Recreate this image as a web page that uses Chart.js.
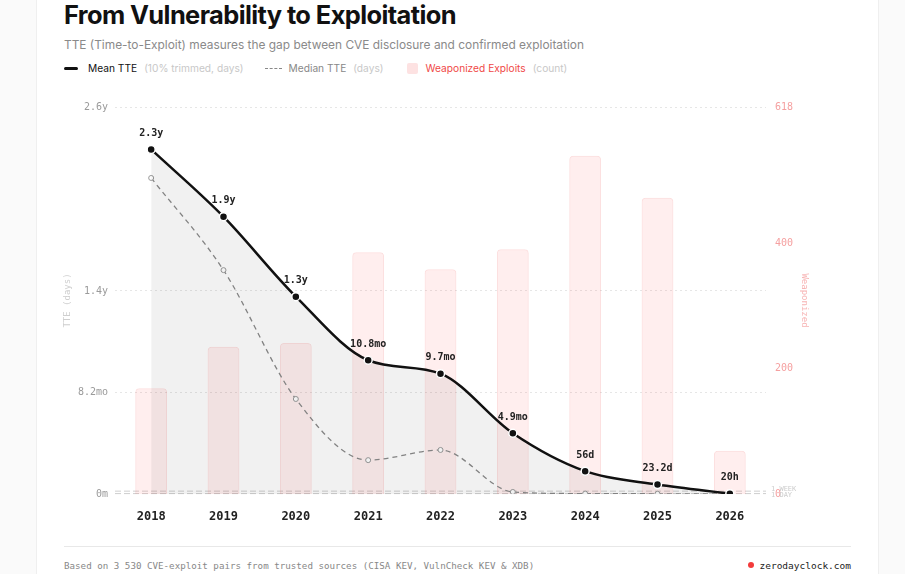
<!DOCTYPE html>
<html>
<head>
<meta charset="utf-8">
<script src="https://cdn.jsdelivr.net/npm/chart.js@4.4.1/dist/chart.umd.min.js"></script>
<style>
  html, body { margin: 0; padding: 0; background: #fafafa; }
  body { width: 905px; height: 574px; overflow: hidden; position: relative; font-family: Inter, "Noto Sans", sans-serif; }
  .card { position: absolute; left: 36px; top: -10px; width: 841px; height: 600px; background: #fff;
          border-left: 1px solid #efefef; border-right: 1px solid #efefef; }
  h1 { position: absolute; left: 64px; top: 0; margin: 0; font: 700 25px Inter, sans-serif; line-height: 30px;
       letter-spacing: -0.6px; color: #111; transform-origin: left center; white-space: nowrap; }
  .sub { position: absolute; left: 64px; top: 37px; font-size: 11.9px; color: #8a8a8a; white-space: nowrap; }
  .legend { position: absolute; left: 64px; top: 61px; height: 14px; display: flex; align-items: center;
            font-size: 10.2px; white-space: nowrap; }
  .legend .ln { width: 14px; height: 0; border-top: 3px solid #111; border-radius: 2px; margin-right: 10px; }
  .legend .dl { width: 17px; height: 0; border-top: 1px dashed #888; margin-right: 7px; }
  .legend .sq { width: 11px; height: 11px; background: #fde2e2; border-radius: 2px; margin-right: 8px; }
  .legend .muted { color: #c8c8c8; margin-left: 7px; }
  #wrap { position: absolute; left: 50px; top: 92px; width: 780px; height: 440px; }
  .rule { position: absolute; left: 64px; top: 546px; width: 787px; height: 1px; background: #e8e8e8; }
  .foot { position: absolute; top: 560px; font: 9.2px "DejaVu Sans Mono", monospace; color: #888; white-space: nowrap; }
  .brand { right: 54px; color: #222; font-size: 9.5px; }
  .brand b { display: inline-block; width: 6px; height: 6px; border-radius: 50%; background: #f33b3b; margin-right: 5px; vertical-align: 1px; }
</style>
</head>
<body>
<div class="card"></div>
<h1 id="title">From Vulnerability to Exploitation</h1>
<div class="sub">TTE (Time-to-Exploit) measures the gap between CVE disclosure and confirmed exploitation</div>
<div class="legend">
  <span class="ln"></span><span style="color:#111">Mean TTE</span><span class="muted" style="margin-right:21px">(10% trimmed, days)</span>
  <span class="dl"></span><span style="color:#888">Median TTE</span><span class="muted" style="margin-right:23px">(days)</span>
  <span class="sq"></span><span style="color:#f04848">Weaponized Exploits</span><span class="muted">(count)</span>
</div>
<div id="wrap"><canvas id="tteChart"></canvas></div>
<div class="rule"></div>
<div class="foot" style="left:64px">Based on 3 530 CVE-exploit pairs from trusted sources (CISA KEV, VulnCheck KEV &amp; XDB)</div>
<div class="foot brand"><b></b>zerodayclock.com</div>

<script>
// fit the title to its width in the reference
const title = document.getElementById("title");
title.style.transform = "scaleX(" + (392 / title.getBoundingClientRect().width) + ")";

const years = ["2018", "2019", "2020", "2021", "2022", "2023", "2024", "2025", "2026"];
const meanDays = [845, 680, 484, 328, 295, 149, 56, 23.2, 0.83];
const meanLabels = ["2.3y", "1.9y", "1.3y", "10.8mo", "9.7mo", "4.9mo", "56d", "23.2d", "20h"];
const medianDays = [775, 549, 233, 83, 108, 5, 1, 0.5, 0.3];
const weaponized = [169, 235, 241, 386, 359, 391, 540, 473, 69];

const tteTicks = [0, 249, 498, 949];
const tteTickLabels = ["0m", "8.2mo", "1.4y", "2.6y"];
const countTicks = [0, 200, 400, 618];
const refDays = [7, 1];
const refLabels = ["1 WEEK", "1 DAY"];

const mono = "'DejaVu Sans Mono', monospace";

// reference lines + value labels above mean points
const overlay = {
  id: "overlay",
  beforeDatasetsDraw(chart) {
    const { ctx, chartArea, scales } = chart;
    ctx.save();
    ctx.strokeStyle = "#cfcfcf";
    ctx.lineWidth = 1;
    ctx.setLineDash([6, 3]);
    refDays.forEach((d, i) => {
      const py = scales.y.getPixelForValue(d);
      ctx.beginPath();
      ctx.moveTo(chartArea.left, py);
      ctx.lineTo(chartArea.right, py);
      ctx.stroke();
      ctx.font = "7px " + mono;
      ctx.fillStyle = "#cccccc";
      ctx.textBaseline = "middle";
      ctx.fillText(refLabels[i], chartArea.right + 5, py + (i === 0 ? -2 : 2));
    });
    ctx.restore();
  },
  afterDatasetsDraw(chart) {
    const { ctx } = chart;
    const meta = chart.getDatasetMeta(0);
    ctx.save();
    ctx.font = "bold 10px " + mono;
    ctx.fillStyle = "#222";
    ctx.textAlign = "center";
    ctx.textBaseline = "middle";
    meta.data.forEach((pt, i) => {
      ctx.fillText(meanLabels[i], pt.x, pt.y - 16);
    });
    ctx.restore();
  }
};

new Chart(document.getElementById("tteChart"), {
  type: "bar",
  data: {
    labels: years,
    datasets: [
      {
        type: "line",
        label: "Mean TTE",
        data: meanDays,
        yAxisID: "y",
        order: 0,
        borderColor: "#111",
        borderWidth: 2.5,
        cubicInterpolationMode: "monotone",
        fill: "origin",
        backgroundColor: "rgba(0,0,0,0.055)",
        pointRadius: 4,
        pointBackgroundColor: "#111",
        pointBorderColor: "#fff",
        pointBorderWidth: 1.5
      },
      {
        type: "line",
        label: "Median TTE",
        data: medianDays,
        yAxisID: "y",
        order: 1,
        borderColor: "#8a8a8a",
        borderWidth: 1.3,
        borderDash: [5, 4],
        cubicInterpolationMode: "monotone",
        fill: false,
        pointRadius: 2.5,
        pointBackgroundColor: "#fff",
        pointBorderColor: "#999",
        pointBorderWidth: 1
      },
      {
        type: "bar",
        label: "Weaponized Exploits",
        data: weaponized,
        yAxisID: "y2",
        order: 2,
        backgroundColor: "rgba(255,90,90,0.1)",
        borderColor: "rgba(240,110,110,0.22)",
        borderWidth: 1,
        borderRadius: 4,
        categoryPercentage: 1,
        barPercentage: 0.44
      }
    ]
  },
  options: {
    responsive: true,
    maintainAspectRatio: false,
    animation: false,
    layout: { padding: { top: 15, left: 0, right: 0, bottom: 0 } },
    plugins: { legend: { display: false }, tooltip: { enabled: false } },
    scales: {
      x: {
        grid: { display: false },
        border: { display: false },
        ticks: { color: "#222", font: { family: mono, size: 12, weight: "bold" }, padding: 8 },
        afterFit(scale) { scale.height = 38; }
      },
      y: {
        position: "left",
        min: 0,
        max: 949,
        afterBuildTicks(scale) { scale.ticks = tteTicks.map(v => ({ value: v })); },
        ticks: {
          color: "#9a9a9a",
          font: { family: mono, size: 10 },
          padding: 7,
          callback: (v, i) => tteTickLabels[i]
        },
        grid: {
          drawTicks: false,
          color: ctx => (ctx.tick && ctx.tick.value === 0 ? "rgba(0,0,0,0)" : "#e6e6e6")
        },
        border: { display: false, dash: [2, 3] },
        title: { display: true, text: "TTE (days)", color: "#cfcfcf", font: { family: mono, size: 9 }, padding: { top: 12, bottom: 0 } },
        afterFit(scale) { scale.width = 65; }
      },
      y2: {
        position: "right",
        min: 0,
        max: 618,
        afterBuildTicks(scale) { scale.ticks = countTicks.map(v => ({ value: v })); },
        ticks: {
          color: "#f5a0a0",
          font: { family: mono, size: 10 },
          padding: 9
        },
        grid: { display: false, drawTicks: false },
        border: { display: false },
        title: { display: true, text: "Weaponized", color: "#f7b4b4", font: { family: mono, size: 9 }, padding: { top: 20, bottom: 0 } },
        afterFit(scale) { scale.width = 64; }
      }
    }
  },
  plugins: [overlay]
});
</script>
</body>
</html>
